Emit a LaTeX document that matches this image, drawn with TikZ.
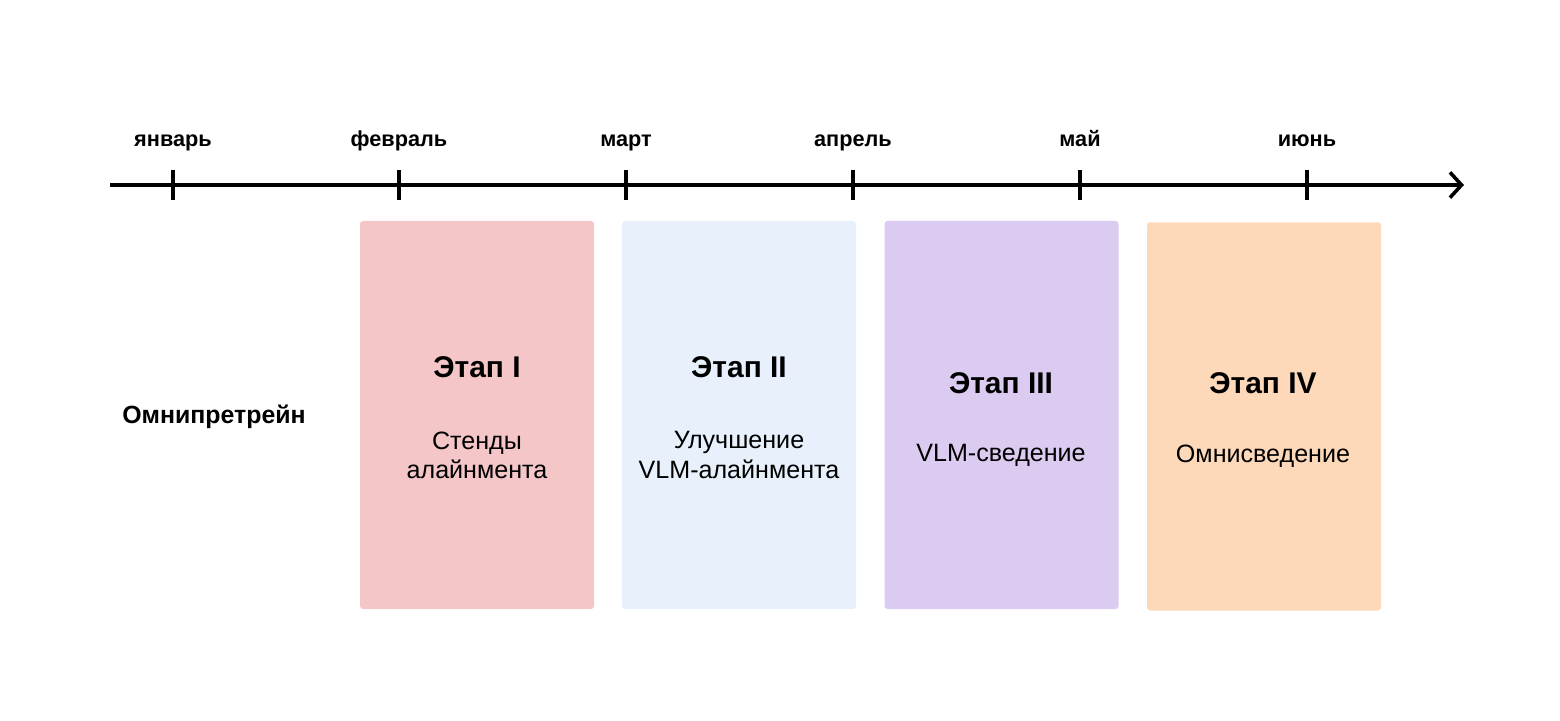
\documentclass[tikz,border=0pt]{standalone}
\usepackage{fontspec}
\setmainfont{Liberation Sans}
\usetikzlibrary{positioning,arrows.meta}
\definecolor{stagepink}{HTML}{F5C6C7}
\definecolor{stageblue}{HTML}{E8F1FB}
\definecolor{stagelilac}{HTML}{DCCBF1}
\definecolor{stagepeach}{HTML}{FDD9BA}
\begin{document}
\begin{tikzpicture}[x=0.16667mm, y=-0.16667mm,
    month node/.style={font=\bfseries\fontsize{10.3}{12}\selectfont, anchor=base},
    stage box/.style={rounded corners=1.5pt, minimum width=3.9cm, minimum height=6.47cm, inner sep=0pt},
    title node/.style={font=\bfseries\fontsize{14.2}{17}\selectfont},
    sub node/.style={align=center, font=\fontsize{11.9}{13.8}\selectfont}]
        \useasboundingbox (0,0) rectangle (1560,720);

          % timeline
          \coordinate (start) at (110,185);
          \coordinate (end) at (1464,185);
          \draw[line width=1.7pt, -{Straight Barb[length=5.5pt, width=12pt, line width=1.7pt]}] (start) -- (end);
          \foreach \x/\m/\name in {173/январь/jan, 399/февраль/feb, 626/март/mar, 853/апрель/apr, 1080/май/may, 1307/июнь/jun} {
            \coordinate (t\name) at (\x,185);
            \draw[line width=1.7pt] (t\name) +(0,-15) -- +(0,15);
            \node[month node] (m\name) at (\x,146) {\m};
          }

          \node[font=\bfseries\fontsize{11.8}{14}\selectfont] (omni) at (214,417) {Омнипретрейн};

          % stages
          \node[stage box, fill=stagepink] (s1) at (477,415) {};
          \node[stage box, fill=stageblue] (s2) at (739,415) {};
          \node[stage box, fill=stagelilac] (s3) at (1001.5,415) {};
          \node[stage box, fill=stagepeach] (s4) at (1264,416.5) {};

          \node[title node] (title1) at (477,367) {Этап I};
          \node[title node] (title2) at (739,367) {Этап II};
          \node[title node] (title3) at (1001,383) {Этап III};
          \node[title node] (title4) at (1263,383) {Этап IV};

          \node[sub node] (sub1) at (477,455) {Стенды\\алайнмента};
          \node[sub node] (sub2) at (739,455) {Улучшение\\VLM-алайнмента};
          \node[sub node] (sub3) at (1001,455) {VLM-сведение};
          \node[sub node] (sub4) at (1263,456) {Омнисведение};

        \end{tikzpicture}
\end{document}
